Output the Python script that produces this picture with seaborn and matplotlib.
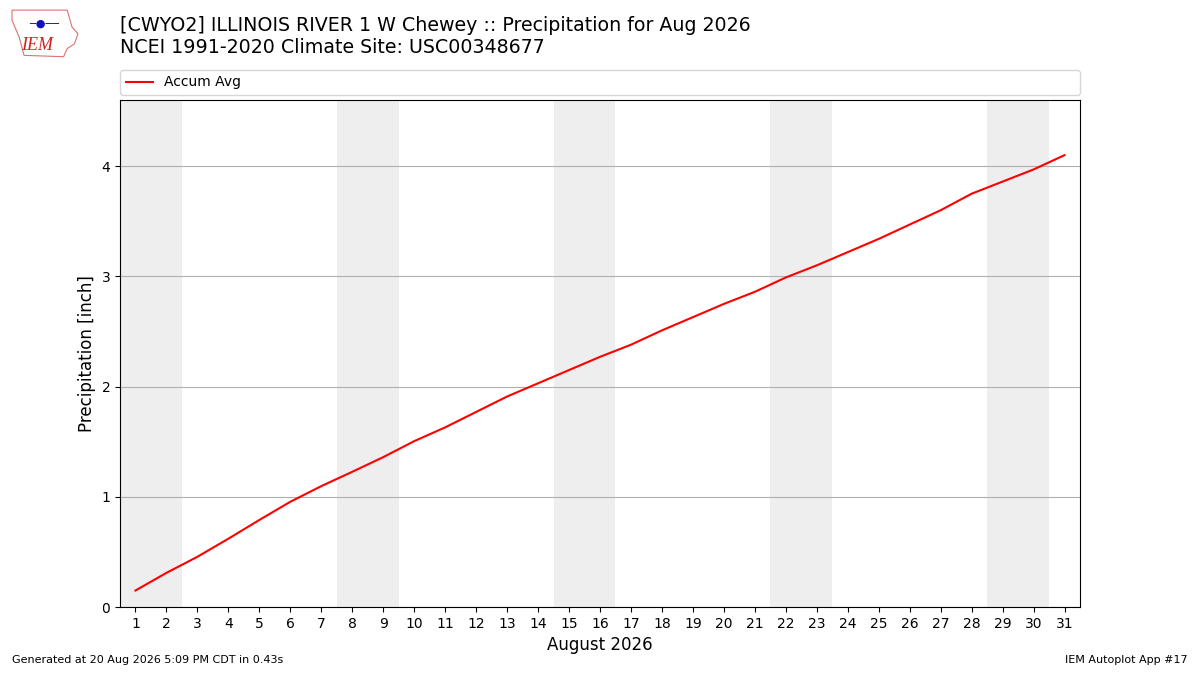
import numpy as np
import pandas as pd
import matplotlib
matplotlib.use("Agg")
import matplotlib.pyplot as plt
import seaborn as sns

days = list(range(1, 32))
accum_avg = [0.15, 0.31, 0.456, 0.62, 0.79, 0.955, 1.097, 1.227, 1.36, 1.505,
             1.63, 1.77, 1.91, 2.03, 2.15, 2.27, 2.38, 2.51, 2.63, 2.75,
             2.86, 2.99, 3.10, 3.22, 3.34, 3.47, 3.60, 3.75, 3.86, 3.97, 4.10]
weekend_days = [1, 2, 8, 9, 15, 16, 22, 23, 29, 30]

title = ("[CWYO2] ILLINOIS RIVER 1 W Chewey :: Precipitation for Aug 2026\n"
         "NCEI 1991-2020 Climate Site: USC00348677")
footer_left = "Generated at 20 Aug 2026 5:09 PM CDT in 0.43s"
footer_right = "IEM Autoplot App #17"

df = pd.DataFrame({"day": days, "accum": accum_avg})

fig = plt.figure(figsize=(12, 6.75), dpi=100)
ax = fig.add_axes([0.1, 0.1007, 0.8, 0.7511])

for d in weekend_days:
    ax.axvspan(d - 0.5, d + 0.5, color="#eeeeee", lw=0, zorder=0)

sns.lineplot(data=df, x="day", y="accum", color="red", lw=1.5,
             label="Accum Avg", ax=ax, zorder=3)

ax.set_xlim(0.5, 31.5)
ax.set_ylim(0, 4.6)
ax.set_xticks(days)
ax.set_yticks([0, 1, 2, 3, 4])
ax.tick_params(labelsize=10)
ax.grid(axis="y", color="#b0b0b0", lw=0.8, zorder=1)
ax.set_axisbelow(True)
ax.set_xlabel("August 2026", fontsize=12)
ax.set_ylabel("Precipitation [inch]", fontsize=12)

ax.legend(loc="lower left", bbox_to_anchor=(0, 1.01, 1, 0.05), mode="expand",
          ncol=1, fontsize=10, borderaxespad=0, frameon=True)

fig.text(0.1, 0.977, title, fontsize=13.7, ha="left", va="top", linespacing=1.2)

# rough stand-in for the IEM logo (state outline + text)
logo_outline = [(0.010, 0.985), (0.056, 0.985), (0.060, 0.960), (0.065, 0.950),
                (0.062, 0.935), (0.056, 0.928), (0.053, 0.916), (0.020, 0.918),
                (0.016, 0.945), (0.010, 0.970)]
fig.add_artist(plt.Polygon(logo_outline, closed=True, transform=fig.transFigure,
                           fill=False, ec="#e07070", lw=0.8))
fig.text(0.031, 0.933, "IEM", fontsize=13, color="#d42020", family="Liberation Serif",
         style="italic", ha="center", va="center")
fig.text(0.037, 0.965, "\u2500\u25cf\u2500\u2500", fontsize=8, color="#1010c0",
         ha="center", va="center")

fig.text(0.01, 0.015, footer_left, fontsize=8, ha="left", va="bottom")
fig.text(0.99, 0.015, footer_right, fontsize=8, ha="right", va="bottom")

fig.savefig("out.png", dpi=100)
